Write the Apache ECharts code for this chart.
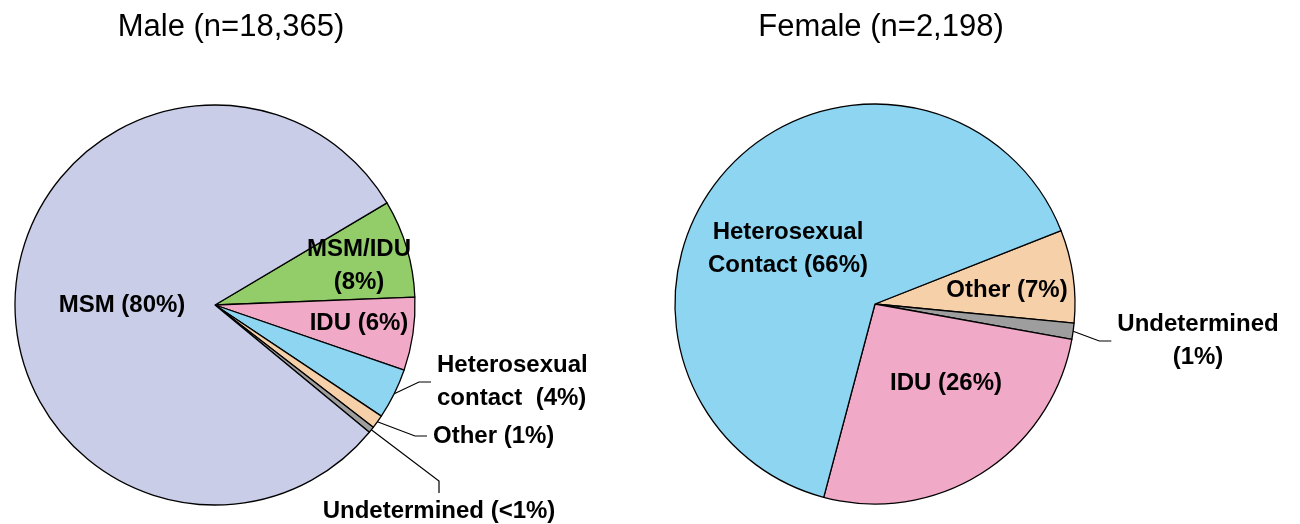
<!DOCTYPE html>
<html>
<head>
<meta charset="utf-8">
<script src="https://cdn.jsdelivr.net/npm/echarts@6/dist/echarts.min.js"></script>
<style>
  html, body { margin: 0; padding: 0; background: #fff; }
  #chart { width: 1300px; height: 524px; }
</style>
</head>
<body>
<div id="chart"></div>
<script>
// male pie, clockwise from the MSM/IDU edge
const maleCategories = ['MSM/IDU', 'IDU', 'Heterosexual contact', 'Other', 'Undetermined', 'MSM'];
const maleValues = [7.9, 5.9, 4.1, 1.1, 0.5, 80.5];
const maleLabels = ['MSM/IDU\n(8%)', 'IDU (6%)', 'Heterosexual\ncontact  (4%)', 'Other (1%)', 'Undetermined (<1%)', 'MSM (80%)'];

// female pie, clockwise from the Other edge
const femaleCategories = ['Other', 'Undetermined', 'IDU', 'Heterosexual Contact'];
const femaleValues = [7.5, 1.3, 26.3, 64.9];
const femaleLabels = ['Other (7%)', 'Undetermined\n(1%)', 'IDU (26%)', 'Heterosexual\nContact (66%)'];

const titles = ['Male (n=18,365)', 'Female (n=2,198)'];

const colors = {
  'MSM': '#C9CDE8',
  'MSM/IDU': '#92CD6A',
  'IDU': '#F0A9C6',
  'Heterosexual contact': '#8ED5F2',
  'Heterosexual Contact': '#8ED5F2',
  'Other': '#F5D0A9',
  'Undetermined': '#9E9E9E'
};

// where each label sits: [x, y, align, guide line?]
const malePlace = [
  [359, 266, 'center', false],
  [359, 323, 'center', false],
  [431, 382, 'left', true],
  [427, 436, 'left', true],
  [439, 511, 'center', true],
  [122, 305, 'center', false]
];
const femalePlace = [
  [1007, 290, 'center', false],
  [1198, 341, 'center', true],
  [946, 383, 'center', false],
  [788, 249, 'center', false]
];

const labelFont = {
  fontFamily: '"Liberation Sans", Arial, sans-serif',
  fontWeight: 'bold',
  fontSize: 24,
  lineHeight: 33,
  color: '#000'
};

function buildData(cats, vals, labels, place) {
  return cats.map((c, i) => ({
    name: c,
    value: vals[i],
    itemStyle: { color: colors[c] },
    label: {
      formatter: labels[i],
      padding: place[i][3] ? [3, 6, 0, 6] : 0
    },
    labelLine: { show: place[i][3] }
  }));
}

function pieSeries(data, center, startAngle, place) {
  return {
    type: 'pie',
    center: center,
    radius: 200,
    startAngle: startAngle,
    clockwise: true,
    avoidLabelOverlap: false,
    animation: false,
    silent: true,
    itemStyle: { borderColor: '#000', borderWidth: 1.3 },
    label: Object.assign({ show: true, position: 'outside' }, labelFont),
    labelLine: {
      show: true,
      length: 10,
      length2: 12,
      minTurnAngle: 60,
      lineStyle: { color: '#000', width: 1.2 }
    },
    emphasis: { disabled: true },
    labelLayout: function (params) {
      const p = place[params.dataIndex];
      return { x: p[0], y: p[1], align: p[2], verticalAlign: 'middle' };
    },
    data: data
  };
}

const chart = echarts.init(document.getElementById('chart'));

const titleStyle = {
  fontFamily: '"Liberation Sans", Arial, sans-serif',
  fontWeight: 'normal',
  fontSize: 31,
  color: '#000'
};

chart.setOption({
  backgroundColor: '#fff',
  title: [
    { text: titles[0], left: 231, top: 12, textAlign: 'center', padding: 0, textStyle: titleStyle },
    { text: titles[1], left: 881, top: 12, textAlign: 'center', padding: 0, textStyle: titleStyle }
  ],
  series: [
    pieSeries(buildData(maleCategories, maleValues, maleLabels, malePlace), [215, 305], 30.7, malePlace),
    pieSeries(buildData(femaleCategories, femaleValues, femaleLabels, femalePlace), [875, 304], 21.5, femalePlace)
  ]
});
</script>
</body>
</html>
